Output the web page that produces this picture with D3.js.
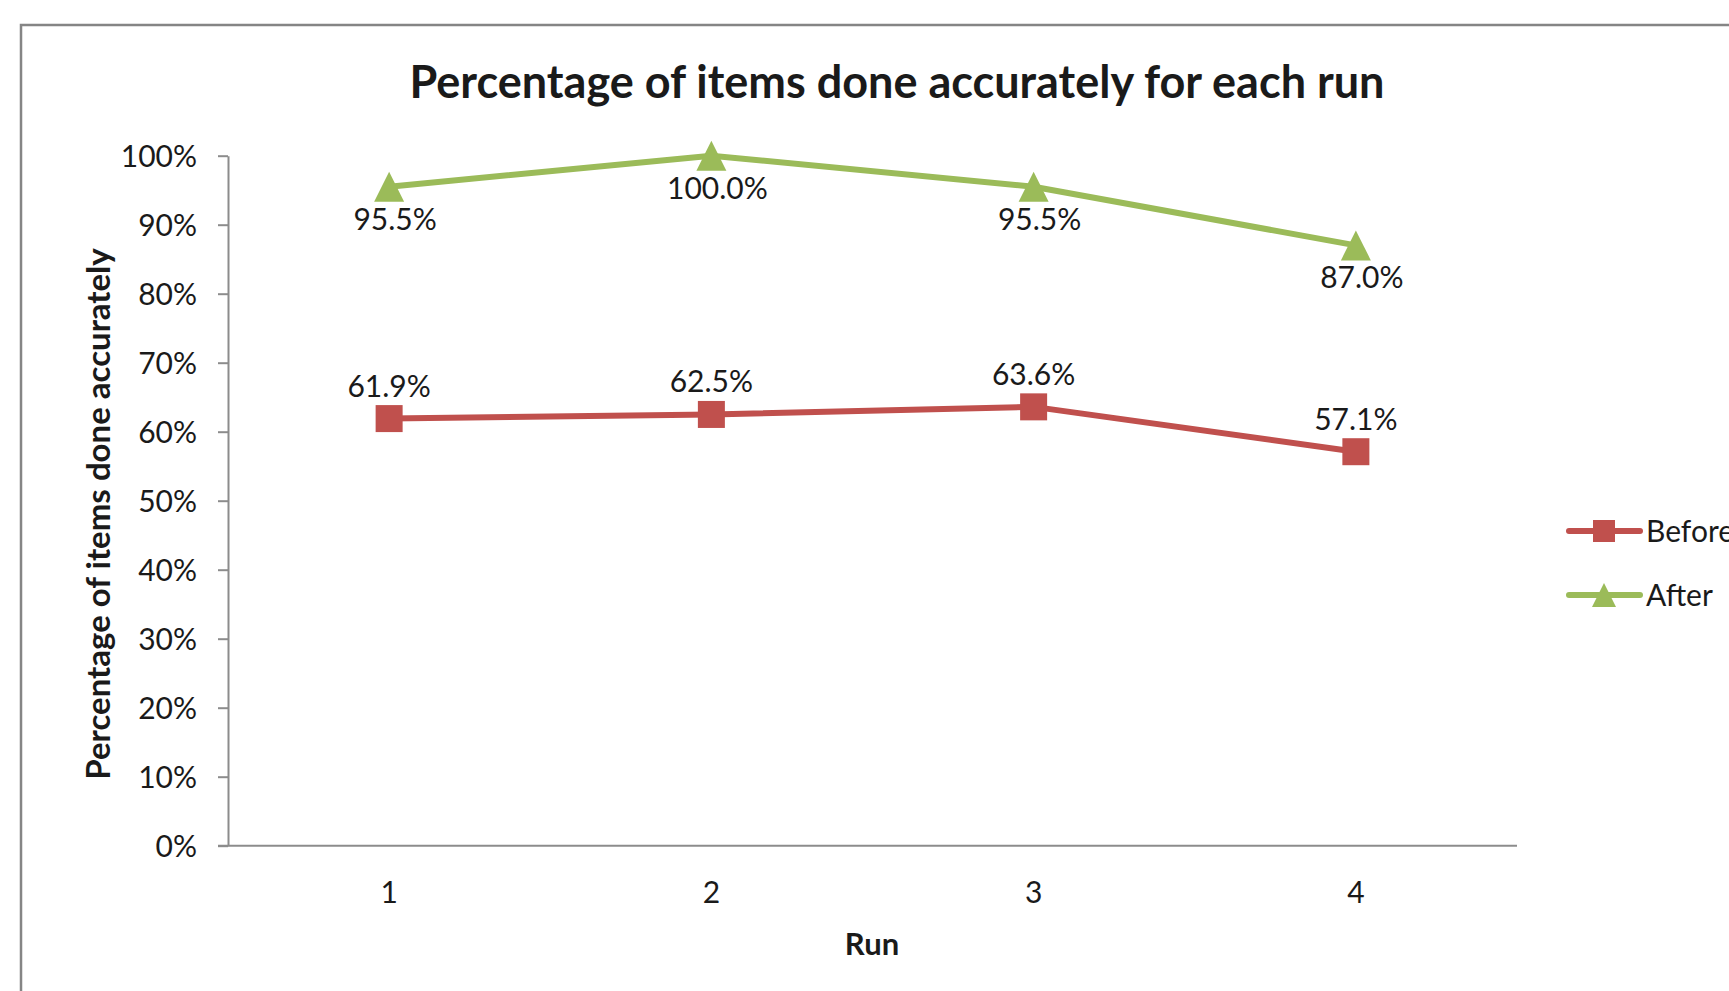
<!DOCTYPE html>
<html>
<head>
<meta charset="utf-8">
<script src="https://cdn.jsdelivr.net/npm/d3@7"></script>
<style>
	body { margin: 0; background: #fff; }
	text { font-family: Lato, "Open Sans", sans-serif; fill: #1a1a1a; }
</style>
</head>
<body>
<script>
// Line chart: accuracy per run, before / after
const width = 1729;
const height = 991;
const plot = {left: 228, right: 1517, top: 155.7, bottom: 845.7};

const runs = ['1', '2', '3', '4'];
const before = [0.619, 0.625, 0.636, 0.571];
const after = [0.955, 1.000, 0.955, 0.870];
const yTicks = [0, 0.1, 0.2, 0.3, 0.4, 0.5, 0.6, 0.7, 0.8, 0.9, 1.0];

const series = [
	{name: 'Before', values: before, color: '#C0504D', marker: 'square', labelDy: -22, labelDx: 0},
	{name: 'After', values: after, color: '#9BBB59', marker: 'triangle', labelDy: 43, labelDx: 6}
];

const svg = d3.select('body')
	.append('svg')
	.attr('width', width)
	.attr('height', height)
	.attr('viewBox', [0, 0, width, height]);

svg.append('rect')							// chart frame
	.attr('x', 21).attr('y', 25)
	.attr('width', width + 50).attr('height', height + 50)
	.attr('fill', '#fff')
	.attr('stroke', '#858585')
	.attr('stroke-width', 2.5);

let xScale = d3.scaleBand()
	.domain(runs)
	.range([plot.left, plot.right])
	.padding(0);

let yScale = d3.scaleLinear()
	.domain([0, 1])
	.range([plot.bottom, plot.top]);

// Y-axis
let yAxis = svg.append('g')
	.attr('transform', `translate(${plot.left}, 0)`)
	.call(d3.axisLeft(yScale).tickValues(yTicks).tickFormat(d3.format('.0%')).tickSize(10).tickSizeOuter(0).tickPadding(21));
yAxis.select('.domain').attr('stroke', '#8c8c8c').attr('stroke-width', 2);
yAxis.selectAll('.tick line').attr('stroke', '#8c8c8c').attr('stroke-width', 2);
yAxis.selectAll('.tick text')
	.attr('dy', 11)
	.style('font-size', '30px')
	.style('font-family', 'Lato, sans-serif')
	.attr('fill', '#1a1a1a');

// X-axis
let xAxis = svg.append('g')
	.attr('transform', `translate(0, ${plot.bottom})`)
	.call(d3.axisBottom(xScale).tickSize(0).tickSizeOuter(0).tickPadding(0));
xAxis.select('.domain').remove();
xAxis.append('line')
	.attr('x1', plot.left - 10).attr('x2', plot.right)
	.attr('stroke', '#8c8c8c').attr('stroke-width', 2);
xAxis.selectAll('.tick text')
	.attr('y', 57).attr('dy', 0)
	.style('font-size', '30px')
	.style('font-family', 'Lato, sans-serif')
	.attr('fill', '#1a1a1a');

const cx = (d, i) => xScale(runs[i]) + xScale.bandwidth() / 2;

let line = d3.line()
	.x((d, i) => cx(d, i))
	.y(d => yScale(d));

function drawMarker(g, kind, color, size) {
	if (kind === 'square') {
		g.append('rect')
			.attr('x', -size / 2).attr('y', -size / 2)
			.attr('width', size).attr('height', size)
			.attr('fill', color);
	} else {
		g.append('path')
			.attr('d', `M0,${-size / 2}L${size / 2},${size / 2}L${-size / 2},${size / 2}Z`)
			.attr('fill', color);
	}
}

series.forEach(s => {
	svg.append('path')
		.attr('d', line(s.values))
		.attr('fill', 'none')
		.attr('stroke', s.color)
		.attr('stroke-width', 6)
		.attr('stroke-linejoin', 'round');

	s.values.forEach((v, i) => {
		let g = svg.append('g')
			.attr('transform', `translate(${cx(v, i)}, ${yScale(v)})`);
		drawMarker(g, s.marker, s.color, s.marker === 'square' ? 27 : 30);
	});

	svg.append('g')
		.selectAll('text')
		.data(s.values)
		.join('text')
		.attr('x', (d, i) => cx(d, i) + s.labelDx)
		.attr('y', d => yScale(d) + s.labelDy)
		.attr('text-anchor', 'middle')
		.style('font-size', '30px')
		.text(d => d3.format('.1%')(d));
});

// Legend
let legend = svg.append('g');
series.forEach((s, i) => {
	let y = 531 + i * 64;
	legend.append('line')
		.attr('x1', 1569).attr('x2', 1640)
		.attr('y1', y).attr('y2', y)
		.attr('stroke', s.color).attr('stroke-width', 6)
		.attr('stroke-linecap', 'round');
	let g = legend.append('g').attr('transform', `translate(1604, ${y})`);
	drawMarker(g, s.marker, s.color, s.marker === 'square' ? 22 : 24);
	legend.append('text')
		.attr('x', 1646).attr('y', y + 11)
		.style('font-size', '30px')
		.text(s.name);
});

// Titles
svg.append('text')
	.attr('x', 897).attr('y', 98)
	.attr('text-anchor', 'middle')
	.style('font-size', '45px')
	.style('font-weight', 'bold')
	.text('Percentage of items done accurately for each run');

svg.append('text')
	.attr('transform', 'translate(110, 514) rotate(-90)')
	.attr('text-anchor', 'middle')
	.style('font-size', '33px')
	.style('font-weight', 'bold')
	.text('Percentage of items done accurately');

svg.append('text')
	.attr('x', 872).attr('y', 955)
	.attr('text-anchor', 'middle')
	.style('font-size', '31px')
	.style('font-weight', 'bold')
	.text('Run');
</script>
</body>
</html>
